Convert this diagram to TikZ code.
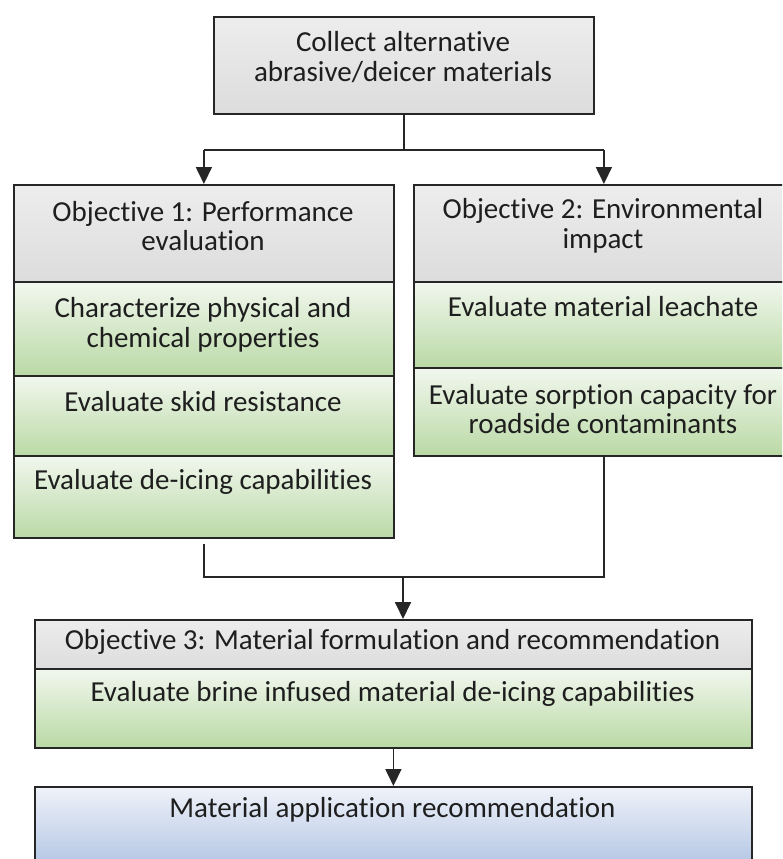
\documentclass[tikz,border=0pt]{standalone}
\usepackage{fontspec}
\setmainfont{Carlito}[Ligatures={NoCommon,NoContextual,NoRare}]
\usetikzlibrary{arrows.meta}
\definecolor{edge}{HTML}{262626}
\definecolor{hdrtop}{HTML}{EDEDED}
\definecolor{hdrbot}{HTML}{DCDCDC}
\definecolor{gtop}{HTML}{F1F7EE}
\definecolor{gbot}{HTML}{BAD9A5}
\definecolor{btop}{HTML}{EFF2F9}
\definecolor{bbot}{HTML}{A7BDE0}
\definecolor{txtc}{HTML}{1E1E1E}
\begin{document}
\begin{tikzpicture}[x=1pt,y=-1pt,
  box/.style={draw=edge, line width=1.8pt, rectangle, inner sep=0pt, anchor=north west},
  hdr/.style={box, top color=hdrtop, bottom color=hdrbot},
  grn/.style={box, top color=gtop, bottom color=gbot},
  blu/.style={box, top color=btop, bottom color=bbot},
  txt/.style={align=center, inner sep=0pt, text=txtc, font=\fontsize{29}{29.5}\selectfont},
  conn/.style={draw=edge, line width=1.8pt},
  arr/.style={conn, -{Triangle[length=17pt,width=16pt]}}
]
\useasboundingbox (0,0) rectangle (782,859);
\begin{scope}
\clip (0,0) rectangle (782,859);
% top box
\node[hdr, minimum width=380pt, minimum height=97pt] (top) at (213,16) {};
\node[txt] (toptx) at (403,57) {Collect alternative\\abrasive/deicer materials};
% left column
\node[hdr, minimum width=380pt, minimum height=97pt] (L1h) at (13,184) {};
\node[grn, minimum width=380pt, minimum height=94pt] (L1a) at (13,281) {};
\node[grn, minimum width=380pt, minimum height=80pt] (L1b) at (13,375) {};
\node[grn, minimum width=380pt, minimum height=82pt] (L1c) at (13,455) {};
\node[txt] (L1htx) at (203,226) {Objective 1: Performance\\evaluation};
\node[txt] (L1atx) at (203,325) {Characterize physical and\\chemical properties};
\node[txt] (L1btx) at (203,402) {Evaluate skid resistance};
\node[txt] (L1ctx) at (203,482) {Evaluate de-icing capabilities};
% right column
\node[hdr, minimum width=380pt, minimum height=97pt] (R2h) at (413,184) {};
\node[grn, minimum width=380pt, minimum height=86pt] (R2a) at (413,281) {};
\node[grn, minimum width=380pt, minimum height=88pt] (R2b) at (413,367) {};
\node[txt] (R2htx) at (603,226) {Objective 2: Environmental\\impact};
\node[txt] (R2atx) at (603,307) {Evaluate material leachate};
\node[txt] (R2btx) at (603,409) {Evaluate sorption capacity for\\roadside contaminants};
% objective 3
\node[hdr, minimum width=717pt, minimum height=49pt] (O3h) at (34,619) {};
\node[grn, minimum width=717pt, minimum height=79pt] (O3g) at (34,668) {};
\node[txt] (O3htx) at (392.5,642) {Objective 3: Material formulation and recommendation};
\node[txt] (O3gtx) at (392.5,694) {Evaluate brine infused material de-icing capabilities};
% final box
\node[blu, minimum width=717pt, minimum height=95pt] (B) at (34,786) {};
\node[txt] (Btx) at (392.5,810) {Material application recommendation};
% connectors
\coordinate (split) at (403,150);
\coordinate (merge) at (403,577);
\draw[conn] (top.south) -- (top.south |- split);
\draw[conn] (split -| L1h.north) -- (split -| R2h.north);
\draw[arr] (split -| L1h.north) -- (L1h.north);
\draw[arr] (split -| R2h.north) -- (R2h.north);
\draw[conn, shorten <=5pt] (L1c.south) |- (merge);
\draw[conn] (R2b.south) |- (merge);
\draw[arr] (merge) -- (merge |- O3h.north);
\draw[arr] (O3g.south) -- (B.north);
\end{scope}
\end{tikzpicture}
\end{document}
